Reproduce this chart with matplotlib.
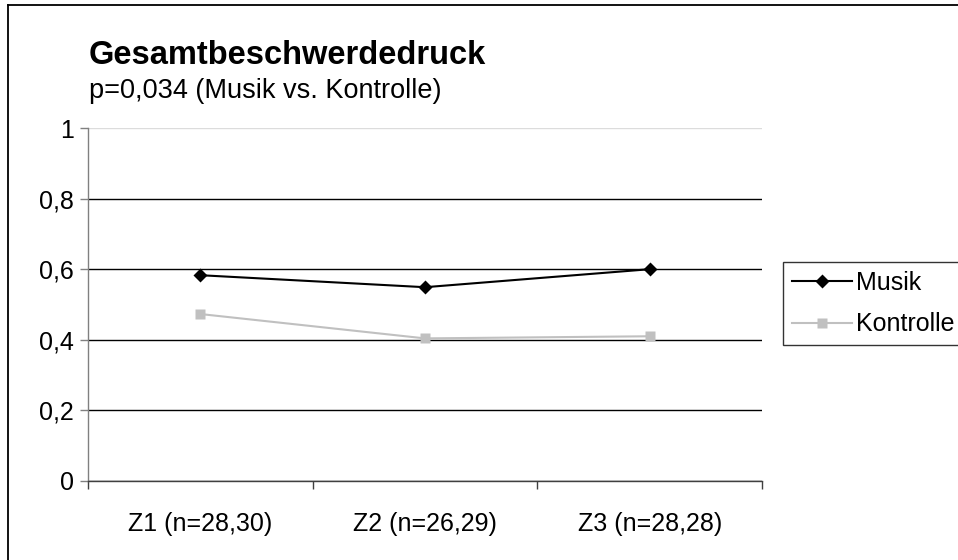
import matplotlib
matplotlib.use("Agg")
import matplotlib.pyplot as plt
from matplotlib.lines import Line2D
from matplotlib.ticker import FixedLocator, FuncFormatter

# Gesamtbeschwerdedruck je Zeitpunkt, Musik- vs. Kontrollgruppe
zeitpunkte = ["Z1 (n=28,30)", "Z2 (n=26,29)", "Z3 (n=28,28)"]
musik = [0.583, 0.549, 0.600]
kontrolle = [0.473, 0.404, 0.410]
y_ticks = [0, 0.2, 0.4, 0.6, 0.8, 1.0]

titel = "Gesamtbeschwerdedruck"
untertitel = "p=0,034 (Musik vs. Kontrolle)"

plt.rcParams["font.family"] = ["Liberation Sans", "DejaVu Sans"]

W, H = 958, 560
fig = plt.figure(figsize=(W / 100, H / 100), dpi=100)
fig.patch.set_facecolor("white")

# plot area in pixel coordinates
left, right, top, bottom = 88, 762, 128, 481
ax = fig.add_axes([left / W, 1 - bottom / H, (right - left) / W, (bottom - top) / H])

x = list(range(len(zeitpunkte)))
ax.plot(x, kontrolle, color="#c0c0c0", lw=1.5, marker="s", ms=7.8,
        mec="none", label="Kontrolle", zorder=3)
ax.plot(x, musik, color="black", lw=1.5, marker="D", ms=6.8,
        mec="none", label="Musik", zorder=4)

ax.set_xlim(-0.5, len(zeitpunkte) - 0.5)
ax.set_ylim(0, 1)

ax.spines["top"].set_visible(False)
ax.spines["right"].set_visible(False)
ax.spines["left"].set_color("#808080")
ax.spines["bottom"].set_color("#404040")
ax.spines["left"].set_linewidth(1.0)
ax.spines["bottom"].set_linewidth(1.0)

ax.yaxis.set_major_locator(FixedLocator(y_ticks))
ax.yaxis.set_major_formatter(FuncFormatter(
    lambda v, _: ("%g" % round(v, 1)).replace(".", ",")))
ax.tick_params(axis="y", direction="out", length=6, width=1,
               color="#808080", pad=4, labelsize=18)

ax.set_xticks(x)
ax.set_xticklabels(zeitpunkte)
ax.set_xticks([i - 0.5 for i in range(len(zeitpunkte) + 1)], minor=True)
ax.tick_params(axis="x", which="major", length=0, pad=22, labelsize=18)
ax.tick_params(axis="x", which="minor", direction="out", length=6,
               width=1, color="#404040")

ax.yaxis.grid(True, color="black", lw=1.0)
ax.set_axisbelow(True)
ax.get_ygridlines()[-1].set_color("#dcdcdc")

# title block
fig.text(89 / W, 1 - 64 / H, titel, fontsize=23.5, fontweight="bold",
         ha="left", va="baseline")
fig.text(89 / W, 1 - 98.5 / H, untertitel, fontsize=19.5,
         ha="left", va="baseline")

handles = [
    Line2D([], [], color="black", lw=1.5, marker="D", ms=6.8, mec="none"),
    Line2D([], [], color="#c0c0c0", lw=1.5, marker="s", ms=7.8, mec="none"),
]
leg = fig.legend(handles, ["Musik", "Kontrolle"], loc="upper left",
                 bbox_to_anchor=(783 / W, 1 - 262 / H), fontsize=18,
                 frameon=True, fancybox=False, handlelength=2.4,
                 handletextpad=0.15, borderpad=0.35, labelspacing=0.7,
                 borderaxespad=0)
leg.get_frame().set_edgecolor("black")
leg.get_frame().set_linewidth(1.0)

# chart border
fig.add_artist(Line2D([8 / W, 8 / W], [0, 1 - 5 / H], color="black",
                      lw=1.3, transform=fig.transFigure))
fig.add_artist(Line2D([8 / W, 1], [1 - 5 / H, 1 - 5 / H], color="black",
                      lw=1.3, transform=fig.transFigure))

fig.savefig("out.png", dpi=100)
